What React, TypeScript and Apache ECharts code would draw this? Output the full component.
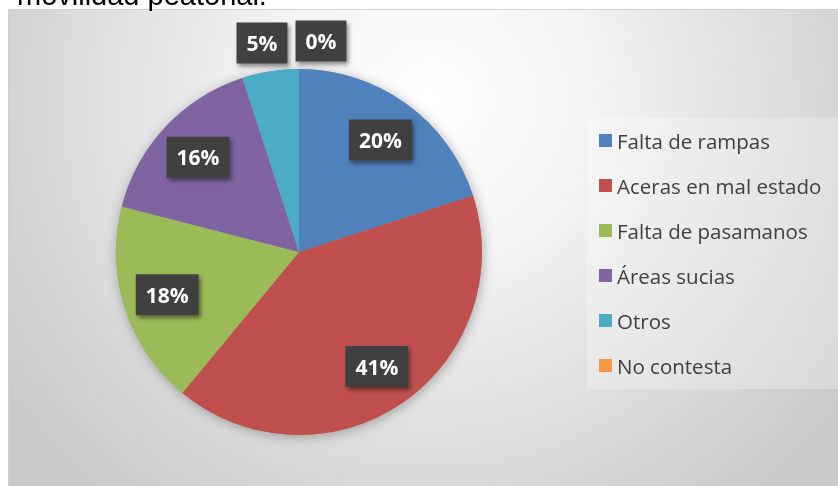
import React, { useEffect, useRef } from "react";
import * as echarts from "echarts";

const CATEGORIES = [
  "Falta de rampas",
  "Aceras en mal estado",
  "Falta de pasamanos",
  "Áreas sucias",
  "Otros",
  "No contesta",
];
const VALUES = [20, 41, 18, 16, 5, 0];
const COLORS = ["#4F81BD", "#C0504D", "#9BBB59", "#8064A2", "#4BACC6", "#F79646"];
const TITLE_TEXT = "movilidad peatonal.";

const CX = 299;
const CY = 252;
const R = 183;
// small slices whose labels Excel placed above the pie (offset from pie centre)
const OUTSIDE_LABEL_OFFSETS: Record<number, [number, number]> = {
  4: [-37, -209],
  5: [22, -211],
};

export default function App() {
  const ref = useRef<HTMLDivElement>(null);
  useEffect(() => {
    if (!ref.current) return;
    const chart = echarts.init(ref.current, null, { renderer: "svg" });
    const data = CATEGORIES.map((name, i) => ({
      name,
      value: VALUES[i],
      itemStyle: { color: COLORS[i] },
    }));
    const labelData = CATEGORIES.map((name, i) => ({ name, value: VALUES[i] }));
    chart.setOption({
      animation: false,
      graphic: [
        {
          type: "rect",
          z: -10,
          silent: true,
          shape: { x: 8.5, y: 9.5, width: 840, height: 480 },
          style: {
            fill: new echarts.graphic.RadialGradient(
              430,
              100,
              520,
              [
                { offset: 0, color: "#ffffff" },
                { offset: 0.3, color: "#f4f4f4" },
                { offset: 1, color: "#c9c9c9" },
              ],
              true
            ),
            stroke: "#cfcfcf",
            lineWidth: 1,
          },
        },
        {
          type: "text",
          z: -5,
          silent: true,
          x: 17,
          y: -5,
          style: {
            text: TITLE_TEXT,
            fontFamily: "Liberation Sans, Arial, sans-serif",
            fontSize: 29,
            fill: "#000000",
            verticalAlign: "middle",
            align: "left",
          },
        },
      ],
      legend: {
        orient: "vertical",
        left: 587,
        top: 118,
        padding: [12, 30, 13, 12],
        backgroundColor: "rgba(255,255,255,0.25)",
        itemGap: 24,
        itemWidth: 13,
        itemHeight: 13,
        icon: "rect",
        data: CATEGORIES,
        textStyle: {
          fontFamily: "Open Sans, sans-serif",
          fontSize: 20.5,
          lineHeight: 21,
          color: "#404040",
        },
      },
      series: [
        {
          type: "pie",
          silent: true,
          center: [CX, CY],
          radius: R,
          z: 1,
          label: { show: false },
          labelLine: { show: false },
          data: [
            {
              value: 1,
              name: "__shadow",
              itemStyle: {
                color: "#999999",
                shadowBlur: 12,
                shadowColor: "rgba(0,0,0,0.3)",
                shadowOffsetX: 1,
                shadowOffsetY: 2,
              },
            },
          ],
        },
        {
          type: "pie",
          name: "main",
          center: [CX, CY],
          radius: R,
          startAngle: 90,
          clockwise: true,
          z: 2,
          label: { show: false },
          labelLine: { show: false },
          emphasis: { disabled: true },
          itemStyle: { borderWidth: 0 },
          data,
        },
        {
          type: "pie",
          name: "labels",
          silent: true,
          center: [CX, CY],
          radius: [88, R],
          startAngle: 90,
          clockwise: true,
          z: 3,
          itemStyle: { color: "rgba(0,0,0,0)" },
          emphasis: { disabled: true },
          labelLine: { show: false },
          label: {
            show: true,
            position: "inside",
            formatter: (p: any) => `${p.value}%`,
            color: "#ffffff",
            fontFamily: "Open Sans, sans-serif",
            fontWeight: "bold",
            fontSize: 21,
            lineHeight: 22,
            backgroundColor: "#404040",
            padding: [10, 10, 9, 10],
            shadowColor: "rgba(0,0,0,0.45)",
            shadowBlur: 4,
            shadowOffsetX: 2,
            shadowOffsetY: 3,
          },
          labelLayout: (params: any) => {
            const off = OUTSIDE_LABEL_OFFSETS[params.dataIndex];
            if (!off) return {};
            return { x: CX + off[0], y: CY + off[1], align: "center", verticalAlign: "middle" };
          },
          data: labelData,
        },
      ],
    });
    return () => chart.dispose();
  }, []);
  return (
    <div
      ref={ref}
      style={{ position: "fixed", left: 0, top: 0, width: 838, height: 486 }}
    />
  );
}
